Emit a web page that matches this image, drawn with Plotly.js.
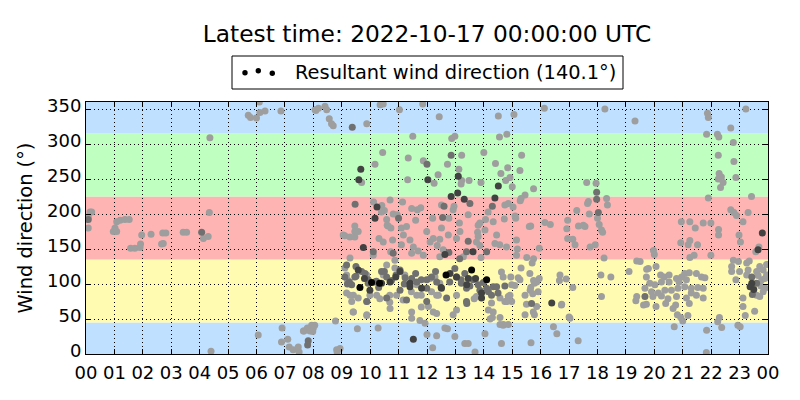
<!DOCTYPE html>
<html>
<head>
<meta charset="utf-8">
<script src="https://cdn.plot.ly/plotly-3.0.1.min.js"></script>
<style>html,body{margin:0;padding:0;background:#fff;}#chart{width:800px;height:400px;}</style>
</head>
<body>
<div id="chart"></div>
<script>
// ---- data (hour of day, wind direction in degrees) ----
const titleText = 'Latest time: 2022-10-17 00:00:00 UTC';
const legendText = 'Resultant wind direction (140.1°)';
const hourTicks = [0,1,2,3,4,5,6,7,8,9,10,11,12,13,14,15,16,17,18,19,20,21,22,23,24];
const hourLabels = ['00','01','02','03','04','05','06','07','08','09','10','11','12','13','14','15','16','17','18','19','20','21','22','23','00'];
const dirTicks = [0,50,100,150,200,250,300,350];
const sectorEdges = [0,45,135,225,315,360];

const grayPoints = [
[0.14,203],[0.08,196],[0.08,180],[0.2,203],[1.08,189],[1.2,191],[1.37,192],[1.52,192],[0.96,175],[1.08,175],[1.02,180],[1.57,151],[1.72,151],[1.9,152],[1.92,157],[1.96,170],[2.29,171],[2.7,173],[2.81,173],[2.72,158],[2.66,157],[3.42,174],[3.54,174],[4.13,165],[4.3,168],[4.34,202],[4.36,309],[4.4,4],
[5.71,341],[5.79,338],[6.0,337],[6.12,345],[6.3,347],[6.1,360],[6.86,347],[8.09,348],
[6.06,27],[6.9,37],[6.88,17],[7.1,21],[7.15,10],[7.29,6],[7.47,10],[7.5,3],[7.67,33],[7.88,33],[7.94,41],[8.05,41],[8.0,37],[7.79,37],[7.65,33],[7.98,32],[8.78,47],[8.94,8],[8.82,6],[8.84,2],
[8.06,349],[8.18,351],[8.41,354],[8.47,349],[8.56,336],[8.7,326],[8.64,329],[9.88,329],[10.35,356],[10.46,357],[11.03,349],[11.85,357],[12.43,339],[12.87,308],[12.98,311],[11.5,311],[10.44,288],[10.17,271],[11.34,280],[11.87,276],[9.7,245],[11.32,249],[12.25,244],[12.39,256],[12.72,271],
[10.12,217],[10.41,212],[10.7,220],[10.5,205],[11.14,217],[10.81,200],[11.66,206],[11.78,209],[10.58,192],[11.6,191],[12.2,194],[9.46,183],[11.1,180],[10.63,183],
[9.58,175],[9.11,169],[9.29,167],[9.46,167],[10.11,141],[10.31,165],[10.79,163],[10.73,180],[10.6,184],[11.4,163],[11.1,156],[11.69,147],[11.46,144],[11.99,175],[12.45,164],[12.36,155],[12.11,160],[12.51,180],[12.45,139],[10.72,146],[10.87,134],
[9.11,123],[9.29,137],[9.17,113],[9.2,106],[9.88,113],[10.46,113],[10.58,127],[10.87,123],[11.22,113],[11.64,99],[12.11,108],[12.28,110],[12.45,101],[12.16,89],[12.4,84],[11.8,84],[11.45,89],[10.69,84],[10.34,79],[9.99,84],[9.41,84],[9.17,87],[9.35,75],[9.88,75],[10.69,74],[11.16,77],[11.8,67],[12.05,68],[12.34,58],[9.41,60],[9.88,55],[11.46,51],[11.75,48],[12.63,37],[9.55,36],[10.28,37],[11.93,44],[12.0,28],[12.34,26],[12.2,9],
[16.13,351],[14.51,340],[15.06,342],[14.55,310],[14.81,314],[13.22,284],[14.0,288],[13.12,264],[14.41,272],[14.6,258],[14.84,266],[15.27,262],[15.33,284],[13.22,248],[13.48,248],[13.2,243],[13.9,245],[14.77,248],[14.92,252],[15.0,239],[15.75,236],[15.45,227],[15.31,222],[15.28,219],[14.86,215],[15.03,210],[12.95,211],[12.77,194],[14.06,192],[14.72,193],[15.1,197],[15.12,194],[13.8,184],[15.65,183],[16.15,188],[16.34,185],
[12.92,206],[13.14,187],[13.86,187],[14.33,189],[11.28,182],[10.95,199],
[13.16,175],[12.75,170],[14.04,177],[13.78,174],[13.8,168],[14.39,158],[14.56,156],[15.15,163],[15.18,150],[15.6,182],[15.95,151],[13.86,155],[13.28,139],
[13.66,79],[14.62,117],[13.9,138],[14.95,110],[15.09,98],[15.27,106],[15.45,84],[15.63,91],[15.78,101],[15.95,108],[15.51,138],[15.75,136],[15.31,123],[14.86,82],[14.74,75],[14.98,75],[14.27,73],[14.16,63],[14.3,52],[14.69,42],[14.86,42],[15.45,56],[15.78,56],[15.86,68],[16.68,113],[16.73,70],[13.04,63],[12.72,36],[12.98,25],[16.45,39],[16.57,29],[14.04,29],[13.33,15],[13.45,15],[13.69,3],[15.66,16],[14.57,42],[14.62,15],
[14.68,110],[14.98,99],[15.21,109],[15.62,115],[15.86,103],[14.8,75],[14.57,80],[14.92,84],[15.5,71],[15.74,60],[15.91,89],[14.33,60],[14.57,52],[14.68,41],[14.22,50],
[18.26,350],[19.32,333],[21.87,344],[21.9,338],[22.69,323],[23.22,350],[21.84,314],[22.22,314],[22.27,310],[22.78,302],[22.25,284],[22.8,275],[22.28,258],[22.36,253],[22.25,250],[22.42,245],[22.33,238],[22.87,252],[21.9,223],[23.42,225],[17.62,245],[17.95,244],[18.32,222],[17.68,218],[17.65,215],[18.35,213],[17.27,205],[17.71,200],[18.0,194],[16.95,191],[16.92,179],[17.33,183],[17.56,182],[17.5,184],[18.06,185],[18.14,177],[18.18,174],[16.95,165],[17.13,164],[17.21,156],[17.74,153],[17.92,156],
[22.69,206],[22.8,202],[22.89,198],[23.3,202],[23.12,189],[22.98,170],[23.03,160],[23.68,153],[23.57,146],
[20.95,189],[21.25,189],[21.44,180],[21.72,187],[21.99,187],[22.26,178],[22.26,170],[21.99,141],[20.93,159],[21.25,162],[21.19,156],[21.52,156],[21.25,138],[21.4,141],[19.97,148],[20.0,142],[18.23,137],
[19.38,133],[19.5,132],[19.11,118],[19.73,121],[19.79,122],[20.06,125],[19.72,110],[20.22,113],[20.35,110],[20.52,113],[20.78,108],[20.96,110],[21.07,115],[21.23,116],[21.48,115],[21.66,110],[21.78,109],[21.13,106],[20.87,103],[20.52,103],[20.25,103],[20.02,99],[19.84,101],[19.67,94],[19.9,89],[20.14,87],[20.37,91],[20.6,91],[20.83,94],[21.07,96],[21.3,94],[21.53,95],[21.72,94],[21.3,87],[21.48,84],[21.72,80],[21.13,80],[20.78,82],[20.48,79],[20.25,83],[19.95,82],[19.38,82],[19.35,76],[19.72,71],[19.62,70],[20.06,68],[20.4,72],[20.75,70],[20.66,65],[20.81,56],[20.93,52],[21.0,47],[21.18,55],[21.23,72],
[18.12,113],[18.47,110],[18.14,82],[16.66,105],[16.9,107],[17.13,95],[16.74,71],[17.0,53],[17.03,51],[17.32,19],[20.7,39],[21.84,34],[22.23,46],[22.29,52],[22.37,38],[22.94,41],[23.02,39],[21.83,2],
[22.72,125],[22.78,134],[22.96,132],[23.25,130],[23.34,133],[22.72,118],[22.87,106],[23.25,113],[23.6,118],[23.71,125],[23.83,120],[23.78,106],[23.9,108],[23.9,94],[23.83,89],[23.71,82],[23.6,84],[23.12,68],[23.53,61],[23.2,55],[23.12,80],[23.95,113],[23.65,112],[23.3,120],[23.0,118],[23.75,97],[23.95,128],
[15.7,130],[15.75,105],[15.65,95],[15.72,86],
[9.29,84],[9.58,80],[10.23,84],[10.93,84],[11.64,84],[12.34,84],[13.04,84],[13.74,82],[9.4,60],[9.88,56],[10.7,65],[11.46,60],[12.22,60],[12.92,56],
[9.05,170],[9.46,175],[10.46,160],[11.17,170],[11.52,153],[11.87,141],[12.22,165],[12.57,149],[13.04,165],[13.74,160],[14.45,170],[14.8,153],[15.15,141],[10.4,203],[11.46,208],[12.51,213],[13.45,199],[14.15,203],[14.74,213]
];

const dimPoints = [
[4.07,174],[7.82,19],[7.8,13],[9.37,324],[9.47,214],[12.6,211],[11.0,194],[12.55,195],[12.0,271],[12.85,284],[13.51,215],[14.3,211],[13.45,161],[12.77,145],[13.15,136],
[9.5,111],[9.7,118],[9.35,99],[9.93,101],[10.22,104],[10.75,105],[11.46,108],[11.8,106],[11.99,94],[11.05,91],[12.98,122],[13.04,110],[13.33,115],[13.51,97],[13.2,106],[13.98,102],[13.86,91],[14.16,89],[14.33,96],[14.5,87],[14.74,97],[13.4,72],[9.2,100],[10.3,95],[11.2,100],[11.6,115],[12.3,118],[10.5,118],[9.5,125],
[17.97,231],[17.97,221],[18.03,202],[19.67,82],[23.43,110],[23.6,101],[23.45,85],[15.68,72],[0.08,192],
[9.17,127],[9.11,110],[9.27,103],[9.46,110],[9.82,115],[9.93,106],[10.17,103],[10.4,118],[10.58,110],[10.91,113],[11.05,120],[11.23,109],[11.64,103],[11.99,106],[12.16,110],[12.34,103],[12.8,103],[13.21,101],[13.39,94],[13.63,106],[13.8,99],[14.1,94],[14.27,84],[14.45,96],
[9.88,75],[10.58,80],[11.28,77],[11.99,75],[12.69,80],[13.39,75],[10.11,146],[10.81,144],[13.39,146],[14.1,146]
];

const darkPoints = [
[9.67,264],[9.6,249],[12.03,249],[10.17,194],[10.24,210],[9.76,152],[12.63,142],[13.1,254],[14.51,240],[13.08,230],[12.85,225],[13.31,221],[14.39,223],[13.62,146],
[10.4,101],[11.05,118],[11.4,96],[11.52,21],[13.45,108],[13.4,99],[13.92,80],[12.81,115],[13.71,108],[16.39,73],[23.8,173],[23.65,149],[23.43,101],[23.37,96],[23.5,92],[9.8,108],[10.9,110],[12.5,95],
[9.58,120],[9.99,91],[10.7,103],[11.4,101],[11.81,94],[12.51,94],[13.04,110],[13.92,87]
];

const blackPoints = [[9.64,95],[10.05,102],[10.33,101],[12.67,113],[13.57,120],[14.1,106]];

// ---- styling ----
const sectorColors = ['rgb(191,224,255)','rgb(255,252,178)','rgb(255,180,180)','rgb(191,255,191)','rgb(191,224,255)'];
const FONT = 'DejaVu Sans, Liberation Sans, sans-serif';
const L = 86, R = 768, T = 102, B = 354;
const px = x => (x - L) / (R - L);
const py = y => (B - y) / (B - T);

function trace(pts, color) {
  return {
    type: 'scatter', mode: 'markers',
    x: pts.map(p => p[0]), y: pts.map(p => p[1]),
    marker: {size: 7, color: color, line: {width: 0}},
    showlegend: false, hoverinfo: 'skip', cliponaxis: true
  };
}
const data = [
  trace(grayPoints, 'rgb(158,158,158)'),
  trace(dimPoints, 'rgb(112,112,112)'),
  trace(darkPoints, 'rgb(66,66,66)'),
  trace(blackPoints, 'rgb(5,5,5)')
];

const shapes = [];
for (let i = 0; i < sectorColors.length; i++) {
  shapes.push({type:'rect', xref:'paper', yref:'y', x0:0, x1:1, y0:sectorEdges[i], y1:sectorEdges[i+1],
    fillcolor:sectorColors[i], line:{width:0}, layer:'below'});
}
// legend box
shapes.push({type:'rect', xref:'paper', yref:'paper', x0:px(232), x1:px(623), y0:py(89), y1:py(56),
  fillcolor:'white', line:{color:'black', width:1}, layer:'above'});
[[245,72.7],[258.3,70.8],[272.3,73.3]].forEach(d => {
  shapes.push({type:'circle', xref:'paper', yref:'paper', xsizemode:'pixel', ysizemode:'pixel',
    xanchor:px(d[0]), yanchor:py(d[1]), x0:-2.7, x1:2.7, y0:-2.7, y1:2.7,
    fillcolor:'black', line:{width:0}, layer:'above'});
});

const axisCommon = {
  ticks:'inside', ticklen:5, tickwidth:1, tickcolor:'black',
  showline:true, linecolor:'black', linewidth:1, mirror:'ticks',
  showgrid:true, gridcolor:'black', gridwidth:1, griddash:'1px,3px',
  zeroline:false, fixedrange:true,
  tickfont:{family:FONT, size:18, color:'black'}
};

const layout = {
  width:800, height:400,
  margin:{l:L, r:800-R, t:T, b:400-B, pad:0},
  paper_bgcolor:'white', plot_bgcolor:'white',
  font:{family:FONT, color:'black'},
  title:{text:titleText, font:{family:FONT, size:23.3, color:'black'},
    x:0.5, xref:'paper', xanchor:'center', y:1-34/400, yref:'container', yanchor:'middle'},
  xaxis:Object.assign({}, axisCommon, {range:[0,24], tickmode:'array', tickvals:hourTicks, ticktext:hourLabels, ticklabelstandoff:2}),
  yaxis:Object.assign({}, axisCommon, {range:[0,360], tickmode:'array', tickvals:dirTicks,
    ticktext:dirTicks.map(String), ticklabelshift:-3,
    title:{text:'Wind direction (°)', font:{family:FONT, size:19.4, color:'black'}, standoff:9}}),
  shapes:shapes,
  annotations:[{xref:'paper', yref:'paper', x:px(293), y:py(72), xanchor:'left', yanchor:'middle',
    text:legendText, showarrow:false, font:{family:FONT, size:19.4, color:'black'}}]
};

Plotly.newPlot('chart', data, layout, {staticPlot:true, displayModeBar:false});
</script>
</body>
</html>
